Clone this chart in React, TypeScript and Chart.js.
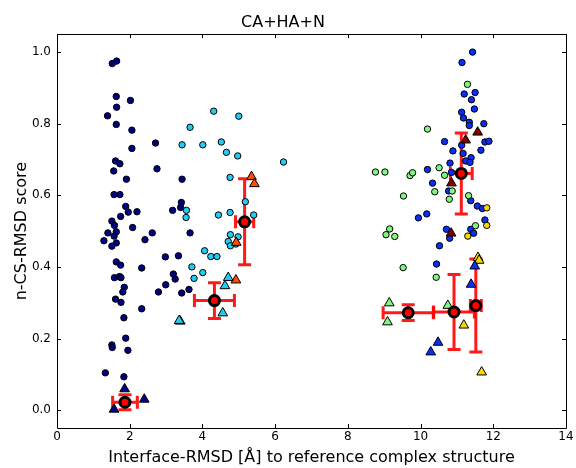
import React, { useEffect, useRef } from 'react';
import { Chart, registerables } from 'chart.js';

Chart.register(...registerables);

type P = [number, number];

const navyCircles: P[] = [
  [1.52, 0.968], [1.64, 0.975], [1.63, 0.876], [2.02, 0.865], [1.64, 0.846], [1.39, 0.822],
  [1.63, 0.798], [2.06, 0.782], [2.06, 0.731], [2.71, 0.746], [2.75, 0.674], [1.61, 0.696],
  [1.73, 0.688], [1.56, 0.668], [1.91, 0.645], [3.44, 0.645], [1.57, 0.602], [1.73, 0.602],
  [1.89, 0.569], [1.96, 0.553], [2.2, 0.554], [1.75, 0.541], [1.51, 0.528], [1.58, 0.516],
  [2.08, 0.51], [3.18, 0.558], [3.42, 0.58], [3.4, 0.566], [1.63, 0.498], [1.4, 0.495],
  [1.29, 0.473], [1.51, 0.458], [1.63, 0.467], [1.57, 0.486], [2.62, 0.495], [2.42, 0.476],
  [3.66, 0.495], [2.98, 0.428], [3.34, 0.431], [1.63, 0.414], [1.75, 0.405], [2.33, 0.397],
  [1.58, 0.37], [1.72, 0.373], [1.76, 0.37], [1.85, 0.343], [1.81, 0.33], [1.61, 0.31],
  [1.76, 0.301], [2.33, 0.283], [1.84, 0.258], [3.2, 0.38], [3.25, 0.366], [2.99, 0.35],
  [2.79, 0.33], [3.43, 0.327], [3.63, 0.337], [1.89, 0.201], [1.51, 0.182], [1.52, 0.175],
  [1.95, 0.167], [1.33, 0.104], [1.84, 0.093],
];

const cyanCircles: P[] = [
  [4.31, 0.835], [5.0, 0.821], [3.66, 0.79], [3.44, 0.741], [4.01, 0.741], [4.52, 0.749],
  [4.66, 0.72], [4.97, 0.71], [4.76, 0.65], [5.18, 0.582], [3.56, 0.558], [3.55, 0.538],
  [4.44, 0.545], [4.76, 0.552], [5.41, 0.545], [4.77, 0.49], [4.98, 0.484], [4.71, 0.471],
  [4.77, 0.459], [4.92, 0.464], [4.06, 0.445], [4.23, 0.429], [4.4, 0.429], [3.71, 0.4],
  [4.01, 0.384], [3.77, 0.368], [6.23, 0.693],
];

const blueCircles: P[] = [
  [11.43, 1.0], [11.14, 0.971], [11.2, 0.883], [11.5, 0.887], [11.4, 0.867], [11.48, 0.841],
  [11.13, 0.832], [11.18, 0.816], [11.34, 0.804], [11.74, 0.8], [11.34, 0.795], [10.66, 0.75],
  [11.77, 0.749], [11.88, 0.751], [10.89, 0.724], [11.13, 0.74], [11.17, 0.717], [11.66, 0.726],
  [11.39, 0.705], [11.24, 0.696], [11.36, 0.692], [10.81, 0.69], [10.19, 0.672], [10.85, 0.664],
  [10.33, 0.634], [10.77, 0.612], [11.56, 0.57], [11.7, 0.563], [10.17, 0.548], [9.94, 0.537],
  [11.77, 0.531], [10.71, 0.505], [11.38, 0.505], [10.8, 0.48], [11.46, 0.494], [10.52, 0.459],
  [10.44, 0.408], [11.38, 0.585],
];

const greenCircles: P[] = [
  [11.29, 0.91], [10.19, 0.785], [8.76, 0.665], [9.02, 0.665], [9.71, 0.655], [9.78, 0.663],
  [10.51, 0.677], [10.66, 0.656], [10.39, 0.61], [10.87, 0.612], [9.53, 0.598], [10.79, 0.589],
  [11.32, 0.599], [11.51, 0.515], [9.15, 0.506], [9.05, 0.49], [9.29, 0.485], [9.52, 0.398],
  [10.43, 0.371],
];

const yellowCircles: P[] = [[11.82, 0.565], [11.82, 0.516], [11.3, 0.486]];

const navyTriangles: P[] = [[1.86, 0.059], [2.4, 0.03], [1.57, 0.002]];
const cyanTriangles: P[] = [[4.71, 0.37], [4.62, 0.347], [4.56, 0.271], [3.39, 0.248], [3.36, 0.25]];
const orangeTriangles: P[] = [[5.35, 0.652], [5.43, 0.632], [4.93, 0.468], [4.92, 0.363]];
const darkRedTriangles: P[] = [[11.57, 0.776], [11.24, 0.754], [10.85, 0.634], [10.84, 0.494]];
const blueTriangles: P[] = [[11.49, 0.402], [11.39, 0.351], [10.48, 0.189], [10.28, 0.162]];
const greenTriangles: P[] = [[9.14, 0.299], [9.09, 0.246], [10.75, 0.292]];
const yellowTriangles: P[] = [[11.58, 0.426], [11.61, 0.418], [11.19, 0.237], [11.68, 0.106]];

const meanX = [1.87, 4.33, 5.16, 11.12, 9.66, 10.92, 11.52];
const meanY = [0.022, 0.306, 0.526, 0.661, 0.272, 0.274, 0.292];
const errX = [0.34, 0.55, 0.25, 0.3, 0.69, 0.56, 0.15];
const errY = [0.021, 0.05, 0.12, 0.113, 0.022, 0.105, 0.13];

const xTicks = [0, 2, 4, 6, 8, 10, 12, 14];
const yTicks = [0.0, 0.2, 0.4, 0.6, 0.8, 1.0];

const FONT = 'DejaVu Sans';

const toPts = (arr: P[]) => arr.map(([x, y]) => ({ x, y }));

const errorBarPlugin = {
  id: 'errorBars',
  beforeDatasetsDraw(chart: any) {
    const { ctx, scales } = chart;
    const xs = scales.x;
    const ys = scales.y;
    const cap = 6.5;
    ctx.save();
    ctx.strokeStyle = 'rgba(255,0,0,0.9)';
    ctx.lineWidth = 3;
    ctx.lineCap = 'butt';
    for (let i = 0; i < meanX.length; i++) {
      const cx = xs.getPixelForValue(meanX[i]);
      const cy = ys.getPixelForValue(meanY[i]);
      const x0 = xs.getPixelForValue(meanX[i] - errX[i]);
      const x1 = xs.getPixelForValue(meanX[i] + errX[i]);
      const y0 = ys.getPixelForValue(meanY[i] - errY[i]);
      const y1 = ys.getPixelForValue(meanY[i] + errY[i]);
      ctx.beginPath();
      ctx.moveTo(x0, cy); ctx.lineTo(x1, cy);
      ctx.moveTo(cx, y0); ctx.lineTo(cx, y1);
      ctx.moveTo(x0, cy - cap); ctx.lineTo(x0, cy + cap);
      ctx.moveTo(x1, cy - cap); ctx.lineTo(x1, cy + cap);
      ctx.moveTo(cx - cap, y0); ctx.lineTo(cx + cap, y0);
      ctx.moveTo(cx - cap, y1); ctx.lineTo(cx + cap, y1);
      ctx.stroke();
    }
    ctx.restore();
  },
};

const framePlugin = {
  id: 'frameTicks',
  afterDatasetsDraw(chart: any) {
    const { ctx, chartArea: a, scales } = chart;
    const L = 4;
    ctx.save();
    ctx.strokeStyle = '#000';
    ctx.lineWidth = 1;
    ctx.beginPath();
    ctx.rect(Math.round(a.left) + 0.5, Math.round(a.top) + 0.5, Math.round(a.right - a.left), Math.round(a.bottom - a.top));
    ctx.stroke();
    ctx.beginPath();
    for (const v of xTicks) {
      const px = Math.round(scales.x.getPixelForValue(v)) + 0.5;
      ctx.moveTo(px, a.bottom); ctx.lineTo(px, a.bottom - L);
      ctx.moveTo(px, a.top); ctx.lineTo(px, a.top + L);
    }
    for (const v of yTicks) {
      const py = Math.round(scales.y.getPixelForValue(v)) + 0.5;
      ctx.moveTo(a.left, py); ctx.lineTo(a.left + L, py);
      ctx.moveTo(a.right, py); ctx.lineTo(a.right - L, py);
    }
    ctx.stroke();
    ctx.restore();
  },
};

export default function App() {
  const ref = useRef<HTMLCanvasElement | null>(null);

  useEffect(() => {
    document.body.style.margin = '0';
    const canvas = ref.current;
    if (!canvas) return;
    const circle = (data: P[], color: string) => ({
      data: toPts(data),
      pointStyle: 'circle',
      pointRadius: 3.2,
      pointBackgroundColor: color,
      pointBorderColor: '#000',
      pointBorderWidth: 1,
      showLine: false,
    });
    const tri = (data: P[], color: string) => ({
      data: toPts(data),
      pointStyle: 'triangle',
      pointRadius: 5.6,
      pointBackgroundColor: color,
      pointBorderColor: '#000',
      pointBorderWidth: 1,
      showLine: false,
    });
    const chart = new Chart(canvas, {
      type: 'scatter',
      data: {
        datasets: [
          {
            data: meanX.map((x, i) => ({ x, y: meanY[i] })),
            pointStyle: 'circle',
            pointRadius: 5,
            pointBackgroundColor: '#ff0000',
            pointBorderColor: '#000',
            pointBorderWidth: 3,
            showLine: false,
          },
          tri(navyTriangles, '#000080'),
          tri(cyanTriangles, '#22ccf2'),
          tri(orangeTriangles, '#ff4c00'),
          tri(darkRedTriangles, '#800000'),
          tri(blueTriangles, '#0a2ef5'),
          tri(greenTriangles, '#7ff77f'),
          tri(yellowTriangles, '#f8d800'),
          circle(yellowCircles, '#f8d800'),
          circle(greenCircles, '#7ff77f'),
          circle(blueCircles, '#0a2ef5'),
          circle(cyanCircles, '#22ccf2'),
          circle(navyCircles, '#000080'),
        ] as any,
      },
      options: {
        responsive: false,
        animation: false,
        events: [],
        layout: { padding: { left: 0, right: 10, top: 0, bottom: 0 } },
        plugins: {
          legend: { display: false },
          tooltip: { enabled: false },
          title: {
            display: true,
            text: 'CA+HA+N',
            color: '#000',
            font: { family: FONT, size: 16, weight: 'normal' },
            padding: { top: 13, bottom: 2 },
          },
        },
        scales: {
          x: {
            type: 'linear',
            min: 0,
            max: 14,
            grid: { display: false, drawTicks: false },
            border: { display: false },
            afterBuildTicks: (s: any) => { s.ticks = xTicks.map((value) => ({ value })); },
            afterFit: (s: any) => { s.height = 40; },
            ticks: {
              color: '#000',
              padding: 2,
              font: { family: FONT, size: 12 },
              callback: (v: any) => String(v),
            },
            title: {
              display: true,
              text: 'Interface-RMSD [Å] to reference complex structure',
              color: '#000',
              font: { family: FONT, size: 16 },
              padding: { top: 0, bottom: 1 },
            },
          },
          y: {
            type: 'linear',
            min: -0.05,
            max: 1.05,
            grid: { display: false, drawTicks: false },
            border: { display: false },
            afterBuildTicks: (s: any) => { s.ticks = yTicks.map((value) => ({ value })); },
            afterFit: (s: any) => { s.width = 57; },
            ticks: {
              color: '#000',
              padding: 6,
              font: { family: FONT, size: 12 },
              callback: (v: any) => Number(v).toFixed(1),
            },
            title: {
              display: true,
              text: 'n-CS-RMSD score',
              color: '#000',
              font: { family: FONT, size: 16 },
              padding: { top: 12, bottom: 0 },
            },
          },
        },
      } as any,
      plugins: [errorBarPlugin, framePlugin],
    });
    return () => chart.destroy();
  }, []);

  return (
    <div style={{ width: 576, height: 468 }}>
      <canvas ref={ref} width={576} height={468} style={{ display: 'block' }} />
    </div>
  );
}
